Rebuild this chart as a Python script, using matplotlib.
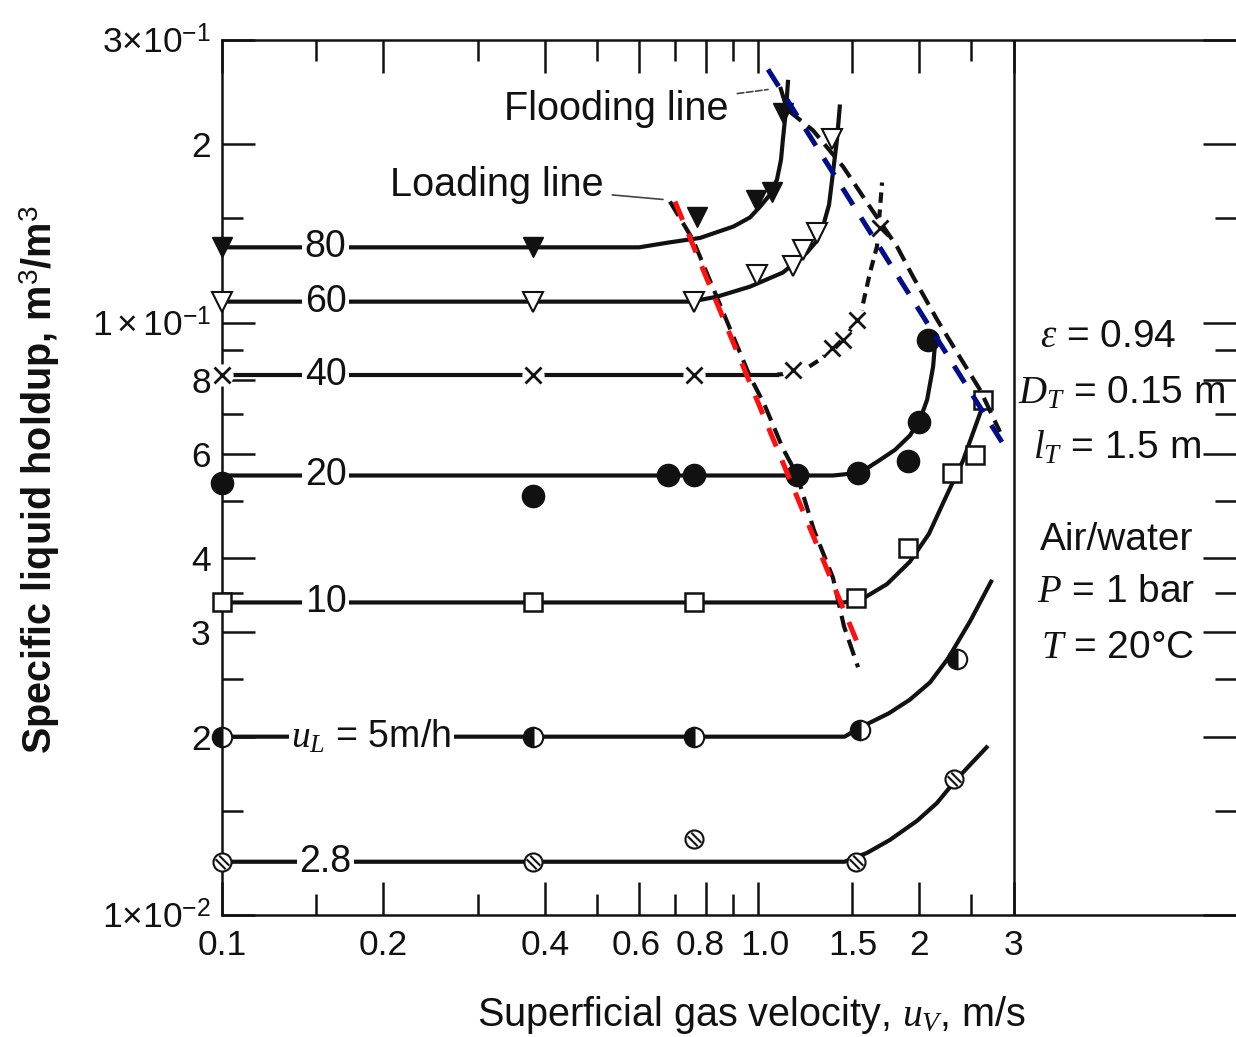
import numpy as np
import matplotlib
matplotlib.use('Agg')
import matplotlib.pyplot as plt
from matplotlib.path import Path
from matplotlib.transforms import ScaledTranslation
from matplotlib.ticker import FixedLocator, FixedFormatter, NullFormatter

plt.rcParams['font.family'] = ['Liberation Sans', 'DejaVu Sans']
plt.rcParams['mathtext.fontset'] = 'custom'
plt.rcParams['mathtext.rm'] = 'Liberation Sans'
plt.rcParams['mathtext.it'] = 'Liberation Serif:italic'
plt.rcParams['mathtext.bf'] = 'Liberation Sans:bold'

# ---- data ----
# uL = 80 m/h
x80_pts = [0.1, 0.38, 0.77, 0.99, 1.06, 1.113]
y80_pts = [0.134, 0.134, 0.151, 0.161, 0.166, 0.226]
x80_line = [0.1, 0.6, 0.68, 0.78, 0.90, 0.966, 1.009, 1.053, 1.085, 1.104, 1.113, 1.128, 1.138]
y80_line = [0.134, 0.134, 0.1365, 0.139, 0.1453, 0.1505, 0.157, 0.1645, 0.1744, 0.1885, 0.204, 0.229, 0.257]

# uL = 60 m/h
x60_pts = [0.1, 0.38, 0.76, 0.996, 1.162, 1.213, 1.289, 1.374]
y60_pts = [0.1085, 0.1085, 0.1085, 0.1205, 0.1244, 0.1328, 0.1419, 0.204]
x60_line = [0.1, 0.75, 0.838, 0.966, 1.113, 1.234, 1.289, 1.322, 1.357, 1.38, 1.404, 1.422]
y60_line = [0.1085, 0.1085, 0.1106, 0.115, 0.1215, 0.1313, 0.1376, 0.1453, 0.1582, 0.1792, 0.2038, 0.2335]

# uL = 40 m/h
x40_pts = [0.1, 0.38, 0.76, 1.162, 1.374, 1.441, 1.531, 1.69]
y40_pts = [0.0817, 0.0817, 0.0817, 0.0833, 0.0905, 0.0935, 0.1012, 0.1447]
x40_line = [0.1, 1.085]
y40_line = [0.0817, 0.0817]
x40_dash = [1.085, 1.198, 1.305, 1.441, 1.55, 1.618, 1.667, 1.704]
y40_dash = [0.0817, 0.0824, 0.0866, 0.0935, 0.1022, 0.1215, 0.1344, 0.1724]

# uL = 20 m/h
x20_pts = [0.1, 0.38, 0.68, 0.76, 1.182, 1.537, 1.905, 1.998, 2.073]
y20_pts = [0.0537, 0.051, 0.0552, 0.0552, 0.0554, 0.0558, 0.0585, 0.068, 0.0936]
x20_line = [0.1, 1.38, 1.55, 1.682, 1.802, 1.921, 2.005, 2.068, 2.122, 2.14]
y20_line = [0.0552, 0.0552, 0.0558, 0.0585, 0.061, 0.0645, 0.0686, 0.0741, 0.0843, 0.0925]

# uL = 10 m/h
x10_pts = [0.1, 0.38, 0.76, 1.524, 1.905, 2.302, 2.541, 2.628]
y10_pts = [0.0337, 0.0337, 0.0337, 0.0343, 0.0417, 0.0558, 0.0598, 0.0741]
x10_line = [0.1, 1.45, 1.577, 1.741, 1.921, 2.084, 2.224, 2.413, 2.618, 2.686]
y10_line = [0.0337, 0.0337, 0.0343, 0.0362, 0.0395, 0.044, 0.05, 0.0585, 0.0718, 0.0756]

# uL = 5 m/h
x5_pts = [0.1, 0.38, 0.76, 1.55, 2.352]
y5_pts = [0.02, 0.02, 0.02, 0.0205, 0.0271]
x5_line = [0.1, 1.45, 1.597, 1.754, 1.921, 2.094, 2.262, 2.486, 2.733]
y5_line = [0.02, 0.02, 0.021, 0.0219, 0.0231, 0.0247, 0.0271, 0.0313, 0.0368]

# uL = 2.8 m/h
x28_pts = [0.1, 0.38, 0.76, 1.524, 2.322]
y28_pts = [0.0123, 0.0123, 0.01344, 0.0123, 0.01697]
x28_line = [0.1, 1.45, 1.597, 1.763, 1.98, 2.158, 2.332, 2.486, 2.686]
y28_line = [0.0123, 0.0123, 0.01273, 0.01339, 0.01442, 0.01546, 0.01684, 0.01792, 0.0193]

# loading and flooding lines (original black dashed)
x_load = [0.685, 0.756, 0.966, 1.026, 1.113, 1.182, 1.271, 1.38, 1.447, 1.537]
y_load = [0.1601, 0.1381, 0.0811, 0.073, 0.0613, 0.0554, 0.0447, 0.0371, 0.0307, 0.0262]
x_flood = [1.10, 1.133, 1.266, 1.441, 1.597, 1.817, 1.946, 2.158, 2.352, 2.596, 2.828]
y_flood = [0.25, 0.229, 0.2112, 0.1834, 0.1595, 0.1344, 0.1196, 0.1012, 0.089, 0.077, 0.0654]

# straight overlays drawn on top
x_red = [0.700, 1.55]
y_red = [0.1601, 0.0281]
x_blue = [1.044, 2.889]
y_blue = [0.2676, 0.0617]

# axis ticks
xmajor = [0.1, 0.2, 0.4, 0.6, 0.8, 1.0, 1.5, 2, 3]
xlabels = ['0.1', '0.2', '0.4', '0.6', '0.8', '1.0', '1.5', '2', '3']
xminor = [0.15, 0.3, 0.5, 0.7, 0.9, 2.5]
ymajor = [0.01, 0.02, 0.03, 0.04, 0.06, 0.08, 0.1, 0.2, 0.3]
ylabels = [r'$1{\times}10^{-2}$', '2', '3', '4', '6', '8', r'$1\times10^{-1}$', '2', r'$3{\times}10^{-1}$']
yminor = [0.015, 0.025, 0.035, 0.05, 0.07, 0.09, 0.15]

# ---- figure ----
W, H = 1236, 1037
fig = plt.figure(figsize=(W / 100, H / 100), dpi=100)
ax = fig.add_axes([222 / W, 1 - 915 / H, 1 - 222 / W, (915 - 40) / H])
ax.set_xscale('log')
ax.set_yscale('log')
ax.set_xlim(0.1, 10 ** (-1 + (W - 222) / 536))
ax.set_ylim(0.01, 0.3)

ink = '#111111'
lw = 3.0

# hatched circle marker
circ = Path.unit_circle()
hatch = Path([(-0.75, 0.35), (0.35, -0.75), (-0.35, 0.75), (0.75, -0.35)],
             [Path.MOVETO, Path.LINETO, Path.MOVETO, Path.LINETO])
hatched = Path.make_compound_path(circ, hatch)

lbl_bbox = dict(facecolor='white', edgecolor='none', pad=2)

def series(xl, yl, xp, yp, mk):
    ax.plot(xl, yl, color=ink, lw=lw, solid_capstyle='butt', zorder=2)
    ax.plot(xp, yp, linestyle='none', clip_on=False, zorder=4, **mk)

series(x80_line, y80_line, x80_pts, y80_pts,
       dict(marker='v', ms=15, mfc=ink, mec=ink))
series(x60_line, y60_line, x60_pts, y60_pts,
       dict(marker='v', ms=14, mfc='white', mec=ink, mew=1.5))
# 40 : solid + dashed, x markers with white halo
ax.plot(x40_line, y40_line, color=ink, lw=lw, zorder=2)
ax.plot(x40_dash, y40_dash, color=ink, lw=lw, dashes=(2.5, 1.6), zorder=2)
ax.plot(x40_pts, y40_pts, linestyle='none', marker='o', ms=16, mfc='white', mec='none',
        clip_on=False, zorder=3)
ax.plot(x40_pts, y40_pts, linestyle='none', marker='x', ms=12, mec=ink, mew=2,
        clip_on=False, zorder=4)
series(x20_line, y20_line, x20_pts, y20_pts,
       dict(marker='o', ms=16, mfc=ink, mec=ink))
series(x10_line, y10_line, x10_pts, y10_pts,
       dict(marker='s', ms=13.5, mfc='white', mec=ink, mew=1.8))
series(x5_line, y5_line, x5_pts, y5_pts,
       dict(marker='o', ms=14, fillstyle='left', mfc=ink, mfcalt='white', mec=ink, mew=1.5))
series(x28_line, y28_line, x28_pts, y28_pts,
       dict(marker=hatched, ms=13, mfc='white', mec=ink, mew=1.5))

# loading / flooding lines
ax.plot(x_load, y_load, color=ink, lw=lw, dashes=(4, 2), zorder=5)
ax.plot(x_flood, y_flood, color=ink, lw=lw, dashes=(4, 2), zorder=5)
ax.plot(x_red, y_red, color='#ff1010', lw=3.6, dashes=(4, 3), zorder=6)
ax.plot(x_blue, y_blue, color='#000c8a', lw=3.6, dashes=(4, 3), zorder=6)

# vertical line at 3 m/s
ax.axvline(3, color=ink, lw=1.8, zorder=1)

# curve labels
fs_tick = 25.5
fs_lbl = 27
fs_txt = 28.5
for yv, s in [(y80_line[0], '80'), (y60_line[0], '60'), (y40_line[0], '40'),
              (y20_line[0], '20'), (y10_line[0], '10'), (y28_line[0], '2.8')]:
    ax.text(0.156, yv, s, fontsize=fs_lbl, ha='center', va='center', color=ink,
            bbox=lbl_bbox, zorder=5)
ax.text(0.19, y5_line[0], r'$u_L$ = 5m/h', fontsize=fs_lbl, ha='center', va='center',
        color=ink, bbox=lbl_bbox, zorder=5)

ax.annotate('Flooding line', xy=(1.044, 0.2475), xytext=(0.545, 0.229),
            fontsize=fs_txt, ha='center', va='center', color=ink,
            arrowprops=dict(arrowstyle='-', color='#444444', lw=1.2,
                            shrinkA=4, shrinkB=0, linestyle=(0, (4, 1.5))))
ax.annotate('Loading line', xy=(0.665, 0.1614), xytext=(0.326, 0.171),
            fontsize=fs_txt, ha='center', va='center', color=ink,
            arrowprops=dict(arrowstyle='-', color='#444444', lw=1.2,
                            shrinkA=4, shrinkB=0))

# conditions text
for px, py, s in [(1040, 337, r'$\varepsilon$ = 0.94'),
                  (1018, 393, r'$D_T$ = 0.15 m'),
                  (1033, 447, r'$l_T$ = 1.5 m'),
                  (1040, 540, 'Air/water'),
                  (1037, 592, r'$P$ = 1 bar'),
                  (1041, 648, r'$T$ = 20$\degree$C')]:
    fig.text(px / W, 1 - py / H, s, fontsize=28, ha='left', va='center', color=ink)

# axes styling
for sp in ['left', 'bottom', 'top']:
    ax.spines[sp].set_linewidth(1.8)
    ax.spines[sp].set_color(ink)
ax.spines['right'].set_visible(False)

ax.xaxis.set_major_locator(FixedLocator(xmajor))
ax.xaxis.set_major_formatter(FixedFormatter(xlabels))
ax.xaxis.set_minor_locator(FixedLocator(xminor))
ax.xaxis.set_minor_formatter(NullFormatter())
ax.yaxis.set_major_locator(FixedLocator(ymajor))
ax.yaxis.set_major_formatter(FixedFormatter(ylabels))
ax.yaxis.set_minor_locator(FixedLocator(yminor))
ax.yaxis.set_minor_formatter(NullFormatter())
ax.tick_params(which='both', direction='in', top=True, right=True, width=1.8, color=ink,
               labelsize=fs_tick, labelcolor=ink)
ax.tick_params(which='major', length=24)
ax.tick_params(which='minor', length=15)
ax.tick_params(axis='x', which='major', pad=10)
ax.tick_params(axis='y', which='major', pad=8)

# nudge the crowded 0.6 / 0.8 / 1.0 labels apart as in the original
for lab, dx in zip(ax.get_xticklabels(), [0, 0, 0, -3, -6, 7, 0, 0, 0]):
    if dx:
        lab.set_transform(lab.get_transform() + ScaledTranslation(dx / 100, 0, fig.dpi_scale_trans))

ax.set_xlabel(r'Superficial gas velocity, $u_V$, m/s', fontsize=fs_txt, color=ink)
ax.set_ylabel(r'Specific liquid holdup, m$^3$/m$^3$', fontsize=fs_txt, color=ink,
              fontweight='bold')
ax.xaxis.set_label_coords((752 - 222) / (W - 222), -0.09)
ax.yaxis.set_label_coords(-(222 - 62) / (W - 222), (915 - 480) / (915 - 40))

fig.savefig('out.png', dpi=100)
